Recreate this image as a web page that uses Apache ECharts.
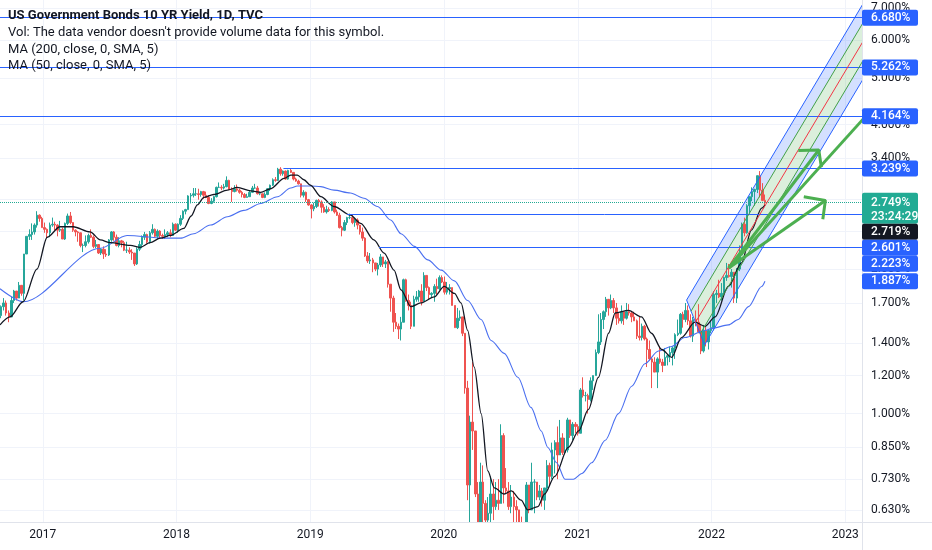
<!DOCTYPE html>
<html><head><meta charset="utf-8">
<script src="https://cdn.jsdelivr.net/npm/echarts@6/dist/echarts.min.js"></script>
<style>html,body{margin:0;padding:0;background:#fff}#c{width:932px;height:550px}</style>
</head><body><div id="c"></div><script>
// ---------- DATA ----------
const startDate = '2016-09-09';   // first weekly candle (Friday)
const firstOpen = 1.60;
const closes = [
1.67,1.70,1.62,1.59,1.72,1.80,1.74,1.85,1.78,2.15,2.34,2.36,2.39,2.47,2.59,2.55,2.44,
2.42,2.38,2.47,2.48,2.47,2.41,2.42,2.31,2.49,2.58,2.50,2.41,2.39,2.38,2.24,2.24,2.28,2.35,2.33,2.23,2.25,2.16,2.20,2.15,2.14,2.30,2.39,2.33,2.24,2.29,2.27,2.19,2.19,2.17,2.16,2.05,2.20,2.25,2.33,2.36,2.28,2.38,2.42,2.34,2.40,2.35,2.34,2.36,2.38,2.35,2.48,2.41,
2.48,2.55,2.64,2.66,2.84,2.85,2.87,2.87,2.86,2.90,2.85,2.82,2.74,2.77,2.83,2.96,2.96,2.95,2.97,3.06,2.93,2.90,2.94,2.92,2.89,2.86,2.82,2.83,2.89,2.95,2.95,2.87,2.87,2.82,2.86,2.94,2.99,3.07,3.06,3.23,3.16,3.20,3.08,3.21,3.18,3.08,3.05,3.01,2.85,2.89,2.79,2.72,
2.67,2.70,2.78,2.76,2.69,2.63,2.66,2.65,2.76,2.63,2.59,2.44,2.41,2.50,2.56,2.56,2.50,2.53,2.47,2.39,2.32,2.13,2.08,2.09,2.06,2.00,2.04,2.12,2.05,2.07,1.86,1.74,1.55,1.52,1.50,1.55,1.90,1.72,1.68,1.52,1.73,1.75,1.80,1.71,1.94,1.83,1.77,1.78,1.84,1.82,1.92,1.88,
1.79,1.82,1.83,1.68,1.51,1.58,1.59,1.47,1.13,0.71,0.96,0.92,0.68,0.59,0.72,0.65,0.60,0.62,0.68,0.64,0.66,0.65,0.90,0.70,0.69,0.64,0.67,0.64,0.63,0.59,0.53,0.57,0.71,0.63,0.72,0.72,0.67,0.69,0.66,0.70,0.78,0.74,0.84,0.87,0.82,0.89,0.83,0.84,0.97,0.90,0.95,0.94,
0.91,1.12,1.09,1.09,1.07,1.17,1.20,1.34,1.41,1.57,1.63,1.73,1.66,1.72,1.66,1.58,1.56,1.63,1.58,1.63,1.62,1.59,1.56,1.45,1.44,1.52,1.43,1.36,1.30,1.28,1.22,1.30,1.28,1.26,1.31,1.32,1.34,1.37,1.46,1.47,1.61,1.57,1.64,1.56,1.45,1.57,1.55,1.48,1.35,1.49,1.41,1.49,1.51,
1.77,1.78,1.75,1.78,1.92,1.94,1.93,1.97,1.74,2.00,2.14,2.48,2.38,2.71,2.83,2.90,2.93,3.13,2.92,2.78,2.749
];
const highs = [
1.68,1.74,1.72,1.64,1.75,1.81,1.80,1.88,1.85,2.15,2.34,2.42,2.49,2.49,2.64,2.60,2.57,
2.50,2.43,2.50,2.56,2.51,2.48,2.52,2.44,2.50,2.61,2.63,2.49,2.42,2.40,2.35,2.26,2.35,2.37,2.42,2.35,2.30,2.25,2.21,2.23,2.20,2.31,2.40,2.40,2.36,2.33,2.30,2.29,2.28,2.22,2.20,2.16,2.22,2.29,2.35,2.39,2.37,2.40,2.48,2.43,2.42,2.41,2.37,2.42,2.40,2.42,2.50,2.49,
2.49,2.59,2.65,2.67,2.85,2.88,2.95,2.95,2.94,2.91,2.91,2.90,2.85,2.81,2.84,2.97,3.03,2.99,3.01,3.12,3.07,2.96,2.99,3.00,2.94,2.91,2.88,2.87,2.91,2.98,3.01,2.98,2.90,2.87,2.89,2.95,3.00,3.09,3.11,3.25,3.26,3.21,3.21,3.22,3.24,3.15,3.10,3.07,3.00,2.92,2.90,2.80,
2.73,2.75,2.79,2.80,2.78,2.73,2.71,2.69,2.77,2.76,2.66,2.62,2.46,2.53,2.57,2.61,2.60,2.56,2.55,2.47,2.44,2.33,2.17,2.16,2.11,2.06,2.06,2.15,2.12,2.09,2.08,1.86,1.76,1.62,1.54,1.59,1.91,1.91,1.77,1.71,1.76,1.80,1.81,1.86,1.97,1.94,1.84,1.79,1.86,1.91,1.94,1.94,
1.93,1.88,1.86,1.83,1.68,1.66,1.64,1.59,1.47,1.17,0.99,1.28,0.92,0.72,0.79,0.78,0.66,0.67,0.74,0.73,0.72,0.73,0.95,0.91,0.77,0.72,0.71,0.69,0.66,0.62,0.61,0.58,0.72,0.71,0.79,0.73,0.72,0.71,0.70,0.70,0.80,0.79,0.87,0.88,0.94,0.97,0.91,0.89,0.98,0.97,0.96,0.96,
0.95,1.13,1.19,1.11,1.10,1.19,1.20,1.36,1.61,1.62,1.64,1.75,1.72,1.77,1.74,1.70,1.62,1.68,1.63,1.70,1.69,1.63,1.63,1.57,1.59,1.54,1.53,1.44,1.42,1.31,1.31,1.31,1.38,1.30,1.37,1.33,1.38,1.38,1.47,1.57,1.62,1.63,1.70,1.68,1.61,1.59,1.64,1.69,1.53,1.53,1.52,1.50,1.56,
1.80,1.81,1.90,1.87,1.93,2.06,2.05,2.00,1.97,2.01,2.24,2.50,2.56,2.73,2.83,2.96,2.94,3.13,3.20,3.02,2.86
];
const lows = [
1.58,1.64,1.60,1.55,1.59,1.70,1.72,1.74,1.76,1.72,2.15,2.30,2.30,2.36,2.44,2.51,2.44,
2.38,2.32,2.33,2.45,2.41,2.34,2.39,2.31,2.30,2.47,2.48,2.39,2.34,2.28,2.22,2.17,2.22,2.26,2.32,2.21,2.21,2.15,2.14,2.10,2.12,2.13,2.28,2.29,2.23,2.22,2.22,2.18,2.16,2.15,2.09,2.03,2.04,2.18,2.21,2.30,2.26,2.26,2.36,2.33,2.31,2.32,2.31,2.31,2.33,2.33,2.35,2.40,
2.38,2.46,2.53,2.60,2.66,2.74,2.82,2.84,2.79,2.83,2.80,2.81,2.73,2.73,2.75,2.82,2.95,2.92,2.93,2.96,2.92,2.76,2.89,2.90,2.87,2.82,2.81,2.82,2.83,2.88,2.94,2.86,2.85,2.81,2.81,2.85,2.91,2.98,3.04,3.05,3.13,3.13,3.07,3.07,3.17,3.06,3.04,3.00,2.82,2.82,2.76,2.71,
2.55,2.64,2.68,2.70,2.62,2.62,2.61,2.63,2.64,2.61,2.58,2.43,2.34,2.40,2.47,2.54,2.48,2.45,2.42,2.36,2.29,2.12,2.06,2.05,1.97,1.98,1.94,2.02,2.02,2.01,1.83,1.63,1.48,1.50,1.43,1.42,1.55,1.71,1.64,1.50,1.52,1.71,1.71,1.68,1.71,1.80,1.73,1.74,1.71,1.77,1.81,1.87,
1.77,1.77,1.77,1.68,1.51,1.50,1.56,1.45,1.10,0.66,0.32,0.84,0.67,0.57,0.59,0.59,0.55,0.58,0.59,0.60,0.63,0.63,0.65,0.65,0.68,0.63,0.62,0.59,0.59,0.57,0.52,0.50,0.55,0.62,0.63,0.62,0.66,0.66,0.64,0.63,0.69,0.71,0.73,0.75,0.73,0.82,0.82,0.83,0.83,0.89,0.88,0.91,
0.90,0.91,1.08,1.06,1.00,1.06,1.12,1.20,1.33,1.39,1.50,1.59,1.60,1.65,1.62,1.53,1.54,1.54,1.53,1.57,1.60,1.55,1.56,1.43,1.42,1.42,1.42,1.25,1.29,1.13,1.22,1.13,1.27,1.22,1.27,1.26,1.28,1.26,1.30,1.45,1.46,1.51,1.55,1.53,1.44,1.41,1.52,1.47,1.33,1.34,1.38,1.36,1.47,
1.49,1.70,1.74,1.72,1.75,1.89,1.92,1.83,1.70,1.70,1.98,2.14,2.34,2.37,2.61,2.77,2.71,2.88,2.82,2.77,2.71
];
// MA (50) – black
const ma50 = [
['2016-09-06',1.53],['2016-10-03',1.59],['2016-11-08',1.71],['2016-12-16',2.00],['2017-01-13',2.33],['2017-02-17',2.45],['2017-03-25',2.45],['2017-05-10',2.39],['2017-06-07',2.30],['2017-07-04',2.27],['2017-08-28',2.24],['2017-09-24',2.22],['2017-10-21',2.27],['2017-11-18',2.32],['2017-12-15',2.35],['2018-01-21',2.43],['2018-02-10',2.58],['2018-02-27',2.72],['2018-03-17',2.82],['2018-04-13',2.86],['2018-05-20',2.92],['2018-06-16',2.96],['2018-07-23',2.91],['2018-08-19',2.89],['2018-09-15',2.94],['2018-10-22',3.09],['2018-11-09',3.14],['2018-11-27',3.14],['2018-12-15',3.07],['2019-01-02',2.99],['2019-01-30',2.83],['2019-03-07',2.70],['2019-04-21',2.59],['2019-05-19',2.49],['2019-06-24',2.30],['2019-07-22',2.16],['2019-08-18',1.99],['2019-09-06',1.81],['2019-10-03',1.67],['2019-10-30',1.70],['2019-12-06',1.75],['2020-01-02',1.84],['2020-01-30',1.78],['2020-02-17',1.70],['2020-03-06',1.49],['2020-03-24',1.25],['2020-04-12',1.00],['2020-04-30',0.76],['2020-05-18',0.70],['2020-06-14',0.68],['2020-07-03',0.69],['2020-07-30',0.66],['2020-08-17',0.63],['2020-09-14',0.64],['2020-10-02',0.68],['2020-10-30',0.74],['2020-12-06',0.85],['2021-01-03',0.92],['2021-01-30',1.02],['2021-02-26',1.19],['2021-03-26',1.47],['2021-04-13',1.62],['2021-05-19',1.64],['2021-06-24',1.59],['2021-07-21',1.47],['2021-08-18',1.36],['2021-09-14',1.31],['2021-10-11',1.44],['2021-11-17',1.55],['2021-12-14',1.52],['2022-01-11',1.59],['2022-02-16',1.84],['2022-03-24',2.06],['2022-04-20',2.41],['2022-05-18',2.68],['2022-05-27',2.719]
];
// MA (200) – blue
const ma200 = [
['2016-09-06',1.82],['2016-11-09',1.71],['2017-06-07',2.21],['2017-08-19',2.35],['2017-11-27',2.32],['2018-01-12',2.32],['2018-02-17',2.37],['2018-04-04',2.47],['2018-05-20',2.57],['2018-07-04',2.65],['2018-08-19',2.74],['2018-10-04',2.83],['2018-11-09',2.95],['2018-11-27',2.98],['2019-01-02',2.98],['2019-01-30',2.97],['2019-03-07',2.92],['2019-04-21',2.88],['2019-05-28',2.81],['2019-07-04',2.70],['2019-08-09',2.53],['2019-09-06',2.37],['2019-10-13',2.23],['2019-11-18',2.09],['2019-12-25',1.99],['2020-01-30',1.89],['2020-03-06',1.72],['2020-04-12',1.57],['2020-05-09',1.42],['2020-06-14',1.335],['2020-07-21',1.19],['2020-08-26',1.03],['2020-09-23',0.92],['2020-10-11',0.85],['2020-11-04',0.79],['2020-11-27',0.73],['2020-12-20',0.73],['2021-01-12',0.75],['2021-02-08',0.79],['2021-03-17',0.88],['2021-04-22',1.00],['2021-05-28',1.14],['2021-07-03',1.27],['2021-08-09',1.35],['2021-09-14',1.38],['2021-10-20',1.44],['2021-12-14',1.49],['2022-01-02',1.505],['2022-02-16',1.53],['2022-03-15',1.57],['2022-04-12',1.67],['2022-05-18',1.84],['2022-05-27',1.887]
];
const yTicks = [7, 6, 5, 4, 3.4, 2.8, 2.4, 2.0, 1.7, 1.4, 1.2, 1.0, 0.85, 0.73, 0.63];
const yearTicks = ['2017', '2018', '2019', '2020', '2021', '2022', '2023'];
// horizontal drawing lines
const hLineValues = [6.680, 5.262, 4.164, 3.239, 2.601, 2.223];
const hLineStarts = [null, null, null, '2018-10-20', '2019-04-12', '2019-07-08'];
const lastPrice = 2.749, countdown = '23:24:29';
const ma50Last = 2.719, ma200Last = 1.887;
// pitchfork anchors [date, yield]
const pfUpper   = [['2021-10-25', 1.724], ['2023-03-15', 7.67]];
const pfInnerUp = [['2021-11-06', 1.634], ['2023-03-15', 7.00]];
const pfMedian  = [['2021-11-18', 1.548], ['2023-03-15', 6.40]];
const pfInnerLo = [['2021-12-01', 1.466], ['2023-03-15', 5.84]];
const pfLower   = [['2021-12-13', 1.390], ['2023-03-15', 5.34]];
// hand-drawn green arrows
const arrowOrigin = ['2022-02-17', 2.01];
const arrow1 = [['2022-08-26', 3.53], ['2022-10-21', 3.54], ['2022-10-28', 3.26]];
const arrow2 = [['2022-09-10', 2.83], ['2022-11-08', 2.78], ['2022-11-01', 2.54]];
const longLineEnd = ['2023-02-22', 4.13];
const titleLines = ['US Government Bonds 10 YR Yield, 1D, TVC', "Vol: The data vendor doesn't provide volume data for this symbol.", 'MA (200, close, 0, SMA, 5)', 'MA (50, close, 0, SMA, 5)'];

// ---------- BUILD ----------
const DAY = 864e5;
const t = s => Date.parse(s + 'T00:00:00Z');
const X_MIN = t('2016-09-06'), X_MAX = t('2023-02-16');
const Y_MIN = 0.5945, Y_MAX = 7.27;
const pt = p => [t(p[0]), p[1]];
const t0 = t(startDate);
const candles = closes.map((c, i) => [t0 + i * 7 * DAY, i === 0 ? firstOpen : closes[i - 1], c, lows[i], highs[i]]);

const FONT = 'Roboto';
const TXT = '#131722';
const BLUE = '#2962ff';

const lineSeries = (data, color, width, z, extra) => Object.assign({
  type: 'line', data: data.map(pt), symbol: 'none', silent: true, clip: true, z: z,
  lineStyle: { color: color, width: width }, animation: false
}, extra || {});

const chart = echarts.init(document.getElementById('c'), null, { renderer: 'canvas' });
const option = {
  animation: false,
  backgroundColor: '#ffffff',
  grid: { left: 0, right: 70, top: 0, bottom: 28, containLabel: false },
  xAxis: { type: 'time', min: X_MIN, max: X_MAX,
    axisLine: { show: false }, axisTick: { show: false },
    axisLabel: { show: false }, splitLine: { show: false } },
  yAxis: { type: 'log', logBase: 10, position: 'right', min: Y_MIN, max: Y_MAX,
    axisLine: { show: true, lineStyle: { color: '#e0e3eb' } }, axisTick: { show: false },
    axisLabel: { show: false }, splitLine: { show: false } },
  series: [
    { // grid lines + price tick labels
      type: 'line', data: [], z: 0, silent: true,
      markLine: {
        silent: true, symbol: 'none', z: 0, animation: false,
        lineStyle: { color: '#f0f3fa', width: 1, type: 'solid' },
        label: { show: true, position: 'end', distance: 9, color: TXT, fontSize: 12, fontFamily: FONT,
          formatter: p => Number(p.value).toFixed(3) + '%' },
        emphasis: { disabled: true },
        data: yTicks.map(v => ({ yAxis: v })).concat(yearTicks.map(y => ({
          xAxis: t(y + '-01-01'), label: { show: false }
        })))
      }
    },
    { // year labels (drawn above the bottom cover)
      type: 'line', data: [], z: 60, silent: true,
      markLine: {
        silent: true, symbol: 'none', z: 60, animation: false,
        lineStyle: { color: 'rgba(255,255,255,0)', width: 1 },
        label: { show: true, position: 'start', distance: 7, color: TXT, fontSize: 12, fontFamily: FONT },
        emphasis: { disabled: true },
        data: yearTicks.map(y => ({ xAxis: t(y + '-01-01'), label: { formatter: y } }))
      }
    },
    { // pitchfork fills
      type: 'custom', z: 1, silent: true, clip: true,
      data: [pt(pfMedian[0])], encode: { x: 0, y: 1 },
      renderItem: (params, api) => {
        const P = p => api.coord(pt(p));
        const poly = (a, b, fill) => ({ type: 'polygon', shape: { points: [P(a[0]), P(a[1]), P(b[1]), P(b[0])] }, style: { fill: fill } });
        return { type: 'group', children: [
          poly(pfUpper, pfInnerUp, 'rgba(41,98,255,0.2)'),
          poly(pfInnerUp, pfInnerLo, 'rgba(76,175,80,0.2)'),
          poly(pfInnerLo, pfLower, 'rgba(41,98,255,0.2)')
        ] };
      }
    },
    {
      type: 'candlestick', data: candles, encode: { x: 0, y: [1, 2, 3, 4] }, z: 2, silent: true,
      barWidth: 2, clip: true,
      itemStyle: { color: '#26a69a', color0: '#ef5350', borderColor: '#26a69a', borderColor0: '#ef5350', borderWidth: 1 }
    },
    lineSeries(ma200, '#4a6ff0', 1.1, 3, { smooth: 0.3, smoothMonotone: 'x' }),
    lineSeries(ma50, '#131722', 1.3, 3, { smooth: 0.3, smoothMonotone: 'x' }),
    { // horizontal drawing lines + last price line
      type: 'line', data: [], z: 4, silent: true,
      markLine: {
        silent: true, symbol: 'none', z: 4, animation: false, label: { show: false },
        lineStyle: { color: BLUE, width: 1, type: 'solid' },
        emphasis: { disabled: true },
        data: hLineValues.map((v, i) => hLineStarts[i] ? [{ coord: [t(hLineStarts[i]), v] }, { coord: [X_MAX, v] }] : { yAxis: v })
          .concat([{ yAxis: lastPrice, lineStyle: { color: '#22ab94', type: 'dotted', width: 1 } }])
      }
    },
    lineSeries([pfUpper[0], pfLower[0]], BLUE, 1, 5),
    lineSeries(pfUpper, BLUE, 1, 5),
    lineSeries(pfLower, BLUE, 1, 5),
    lineSeries(pfInnerUp, '#43a047', 1, 5),
    lineSeries(pfInnerLo, '#43a047', 1, 5),
    lineSeries(pfMedian, '#f23645', 1, 5),
    lineSeries([arrowOrigin, longLineEnd], '#4caf50', 3, 6),
    lineSeries([arrowOrigin, arrow1[1]], '#4caf50', 3, 6),
    lineSeries(arrow1, '#4caf50', 3, 6),
    lineSeries([arrowOrigin, arrow2[1]], '#4caf50', 3, 6),
    lineSeries(arrow2, '#4caf50', 3, 6)
  ]
};
chart.setOption(option);

// ---------- overlay texts & price-scale labels ----------
const g = [];
titleLines.forEach((s, i) => {
  g.push({ type: 'text', x: 8, y: [16, 33, 50, 66][i], z: 100, silent: true,
    style: { text: s, fill: TXT, font: (i === 0 ? 'bold ' : '') + '13px ' + FONT, verticalAlign: 'middle' } });
});
const py = v => chart.convertToPixel({ yAxisIndex: 0 }, v);
const labels = [
  { v: hLineValues[0], bg: BLUE }, { v: hLineValues[1], bg: BLUE }, { v: hLineValues[2], bg: BLUE },
  { v: hLineValues[3], bg: BLUE }, { v: lastPrice, bg: '#22ab94', sub: countdown },
  { v: ma50Last, bg: '#131722' }, { v: hLineValues[4], bg: BLUE }, { v: hLineValues[5], bg: BLUE },
  { v: ma200Last, bg: BLUE }
];
const ax = 862, LH = 16;
let prevBottom = -1e9;
labels.forEach(l => {
  const pad = l.sub ? 2 : 0;
  const h = l.sub ? 31 : LH;
  let top = Math.max(py(l.v) - LH / 2 - pad, prevBottom);
  prevBottom = top + h;
  g.push({ type: 'rect', z: 100, silent: true, shape: { x: ax, y: top, width: 56, height: h, r: 2 }, style: { fill: l.bg } });
  g.push({ type: 'text', z: 101, silent: true, x: ax + 9, y: top + pad + LH / 2,
    style: { text: l.v.toFixed(3) + '%', fill: '#ffffff', font: '500 12px ' + FONT, verticalAlign: 'middle' } });
  if (l.sub) g.push({ type: 'text', z: 101, silent: true, x: ax + 9, y: top + pad + LH / 2 + 14,
    style: { text: l.sub, fill: '#ffffff', font: '500 12px ' + FONT, verticalAlign: 'middle' } });
});
// cover the strip under the plot so clipped wicks do not run into the time scale
g.push({ type: 'rect', z: 40, silent: true, shape: { x: 0, y: 522.5, width: 862, height: 28 }, style: { fill: '#ffffff' } });
g.push({ type: 'line', z: 50, silent: true, shape: { x1: 0, y1: 522.5, x2: 932, y2: 522.5 }, style: { stroke: '#e0e3eb', lineWidth: 1 } });
g.push({ type: 'line', z: 50, silent: true, shape: { x1: 862.5, y1: 0, x2: 862.5, y2: 550 }, style: { stroke: '#e0e3eb', lineWidth: 1 } });
chart.setOption({ graphic: g });
</script></body></html>
